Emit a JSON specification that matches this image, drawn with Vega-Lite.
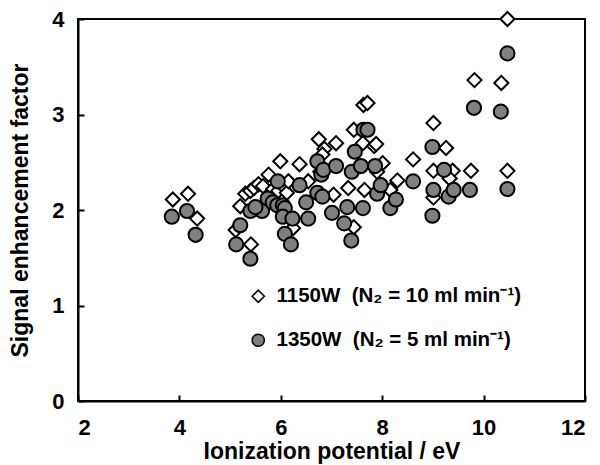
{
  "$schema": "https://vega.github.io/schema/vega-lite/v6.json",
  "width": 507,
  "height": 382,
  "autosize": {"type": "none"},
  "padding": {"left": 78, "top": 19, "right": 15, "bottom": 64},
  "background": "white",
  "config": {
    "font": "Liberation Sans",
    "view": {"stroke": "black", "strokeWidth": 2},
    "axis": {
      "grid": false,
      "domainColor": "black",
      "domainWidth": 2,
      "tickColor": "black",
      "tickWidth": 2,
      "labelFont": "Liberation Sans",
      "labelFontWeight": "bold",
      "labelFontSize": 22,
      "labelColor": "black",
      "titleFont": "Liberation Sans",
      "titleFontWeight": "bold",
      "titleFontSize": 23,
      "titleColor": "black"
    }
  },
  "data": {
    "values": [
      {"ip": 3.87, "sef": 2.11, "series": "1150W"},
      {"ip": 4.17, "sef": 2.17, "series": "1150W"},
      {"ip": 4.35, "sef": 1.91, "series": "1150W"},
      {"ip": 5.11, "sef": 1.79, "series": "1150W"},
      {"ip": 5.20, "sef": 2.04, "series": "1150W"},
      {"ip": 5.41, "sef": 1.64, "series": "1150W"},
      {"ip": 5.30, "sef": 2.17, "series": "1150W"},
      {"ip": 5.40, "sef": 2.20, "series": "1150W"},
      {"ip": 5.47, "sef": 2.23, "series": "1150W"},
      {"ip": 5.56, "sef": 2.27, "series": "1150W"},
      {"ip": 5.65, "sef": 2.25, "series": "1150W"},
      {"ip": 5.76, "sef": 2.37, "series": "1150W"},
      {"ip": 5.85, "sef": 2.22, "series": "1150W"},
      {"ip": 5.95, "sef": 2.20, "series": "1150W"},
      {"ip": 6.05, "sef": 2.25, "series": "1150W"},
      {"ip": 6.12, "sef": 2.18, "series": "1150W"},
      {"ip": 5.99, "sef": 2.51, "series": "1150W"},
      {"ip": 6.15, "sef": 2.30, "series": "1150W"},
      {"ip": 6.24, "sef": 1.81, "series": "1150W"},
      {"ip": 6.37, "sef": 2.48, "series": "1150W"},
      {"ip": 6.54, "sef": 2.30, "series": "1150W"},
      {"ip": 6.75, "sef": 2.74, "series": "1150W"},
      {"ip": 6.86, "sef": 2.64, "series": "1150W"},
      {"ip": 6.82, "sef": 2.58, "series": "1150W"},
      {"ip": 6.78, "sef": 2.40, "series": "1150W"},
      {"ip": 7.09, "sef": 2.70, "series": "1150W"},
      {"ip": 7.04, "sef": 2.16, "series": "1150W"},
      {"ip": 7.33, "sef": 2.23, "series": "1150W"},
      {"ip": 7.44, "sef": 1.82, "series": "1150W"},
      {"ip": 7.44, "sef": 2.84, "series": "1150W"},
      {"ip": 7.62, "sef": 2.70, "series": "1150W"},
      {"ip": 7.63, "sef": 3.10, "series": "1150W"},
      {"ip": 7.71, "sef": 3.12, "series": "1150W"},
      {"ip": 7.65, "sef": 2.21, "series": "1150W"},
      {"ip": 7.84, "sef": 2.67, "series": "1150W"},
      {"ip": 7.88, "sef": 2.69, "series": "1150W"},
      {"ip": 8.01, "sef": 2.49, "series": "1150W"},
      {"ip": 7.90, "sef": 2.40, "series": "1150W"},
      {"ip": 8.30, "sef": 2.31, "series": "1150W"},
      {"ip": 8.16, "sef": 2.21, "series": "1150W"},
      {"ip": 8.61, "sef": 2.53, "series": "1150W"},
      {"ip": 9.01, "sef": 2.91, "series": "1150W"},
      {"ip": 9.01, "sef": 2.41, "series": "1150W"},
      {"ip": 9.01, "sef": 2.13, "series": "1150W"},
      {"ip": 9.26, "sef": 2.65, "series": "1150W"},
      {"ip": 9.39, "sef": 2.41, "series": "1150W"},
      {"ip": 9.33, "sef": 2.33, "series": "1150W"},
      {"ip": 9.75, "sef": 2.41, "series": "1150W"},
      {"ip": 9.82, "sef": 3.36, "series": "1150W"},
      {"ip": 10.35, "sef": 3.33, "series": "1150W"},
      {"ip": 10.47, "sef": 4.00, "series": "1150W"},
      {"ip": 10.47, "sef": 2.41, "series": "1150W"},
      {"ip": 3.85, "sef": 1.93, "series": "1350W"},
      {"ip": 4.15, "sef": 1.99, "series": "1350W"},
      {"ip": 4.32, "sef": 1.74, "series": "1350W"},
      {"ip": 5.12, "sef": 1.64, "series": "1350W"},
      {"ip": 5.20, "sef": 1.84, "series": "1350W"},
      {"ip": 5.40, "sef": 1.49, "series": "1350W"},
      {"ip": 5.40, "sef": 1.99, "series": "1350W"},
      {"ip": 5.63, "sef": 1.99, "series": "1350W"},
      {"ip": 5.50, "sef": 2.03, "series": "1350W"},
      {"ip": 5.74, "sef": 2.12, "series": "1350W"},
      {"ip": 5.84, "sef": 2.08, "series": "1350W"},
      {"ip": 5.94, "sef": 2.30, "series": "1350W"},
      {"ip": 5.93, "sef": 2.05, "series": "1350W"},
      {"ip": 6.04, "sef": 2.05, "series": "1350W"},
      {"ip": 6.08, "sef": 2.02, "series": "1350W"},
      {"ip": 6.04, "sef": 1.93, "series": "1350W"},
      {"ip": 6.08, "sef": 1.75, "series": "1350W"},
      {"ip": 6.20, "sef": 1.64, "series": "1350W"},
      {"ip": 6.23, "sef": 1.91, "series": "1350W"},
      {"ip": 6.37, "sef": 2.26, "series": "1350W"},
      {"ip": 6.50, "sef": 2.08, "series": "1350W"},
      {"ip": 6.54, "sef": 1.91, "series": "1350W"},
      {"ip": 6.72, "sef": 2.51, "series": "1350W"},
      {"ip": 6.72, "sef": 2.18, "series": "1350W"},
      {"ip": 6.80, "sef": 2.37, "series": "1350W"},
      {"ip": 6.84, "sef": 2.42, "series": "1350W"},
      {"ip": 6.82, "sef": 2.14, "series": "1350W"},
      {"ip": 7.09, "sef": 2.46, "series": "1350W"},
      {"ip": 7.01, "sef": 1.97, "series": "1350W"},
      {"ip": 7.25, "sef": 1.86, "series": "1350W"},
      {"ip": 7.31, "sef": 2.03, "series": "1350W"},
      {"ip": 7.39, "sef": 1.68, "series": "1350W"},
      {"ip": 7.40, "sef": 2.40, "series": "1350W"},
      {"ip": 7.46, "sef": 2.61, "series": "1350W"},
      {"ip": 7.58, "sef": 2.46, "series": "1350W"},
      {"ip": 7.62, "sef": 2.02, "series": "1350W"},
      {"ip": 7.63, "sef": 2.84, "series": "1350W"},
      {"ip": 7.71, "sef": 2.84, "series": "1350W"},
      {"ip": 7.86, "sef": 2.46, "series": "1350W"},
      {"ip": 7.90, "sef": 2.17, "series": "1350W"},
      {"ip": 7.97, "sef": 2.26, "series": "1350W"},
      {"ip": 8.16, "sef": 2.02, "series": "1350W"},
      {"ip": 8.27, "sef": 2.11, "series": "1350W"},
      {"ip": 8.61, "sef": 2.30, "series": "1350W"},
      {"ip": 8.99, "sef": 2.66, "series": "1350W"},
      {"ip": 8.99, "sef": 1.94, "series": "1350W"},
      {"ip": 9.01, "sef": 2.21, "series": "1350W"},
      {"ip": 9.22, "sef": 2.42, "series": "1350W"},
      {"ip": 9.31, "sef": 2.14, "series": "1350W"},
      {"ip": 9.41, "sef": 2.21, "series": "1350W"},
      {"ip": 9.73, "sef": 2.21, "series": "1350W"},
      {"ip": 9.81, "sef": 3.07, "series": "1350W"},
      {"ip": 10.34, "sef": 3.03, "series": "1350W"},
      {"ip": 10.47, "sef": 3.64, "series": "1350W"},
      {"ip": 10.47, "sef": 2.22, "series": "1350W"}
    ]
  },
  "mark": {"type": "point", "filled": true, "stroke": "black", "strokeWidth": 2, "opacity": 1, "size": 200, "clip": false},
  "encoding": {
    "x": {
      "field": "ip", "type": "quantitative",
      "scale": {"domain": [2, 12], "nice": false, "zero": false},
      "axis": {"values": [2, 4, 6, 8, 10, 12], "tickSize": -6, "labelPadding": 22, "title": "Ionization potential / eV", "titlePadding": 2}
    },
    "y": {
      "field": "sef", "type": "quantitative",
      "scale": {"domain": [0, 4], "nice": false},
      "axis": {"values": [0, 1, 2, 3, 4], "tickSize": -6, "labelPadding": 20, "title": "Signal enhancement factor", "titlePadding": 19}
    },
    "shape": {
      "field": "series", "type": "nominal",
      "scale": {"domain": ["1150W", "1350W"], "range": ["diamond", "circle"]},
      "legend": {
        "title": null,
        "orient": "none",
        "legendX": 170,
        "legendY": 267,
        "padding": 0,
        "symbolSize": 150,
        "labelFont": "Liberation Sans",
        "labelFontWeight": "bold",
        "labelFontSize": 20.5,
        "labelColor": "black",
        "labelOffset": 8,
        "rowPadding": 23,
        "labelLimit": 400,
        "labelExpr": "datum.label == '1150W' ? '1150W\u00a0\u00a0(N\u2082 = 10 ml min\u207b\u00b9)' : '1350W\u00a0\u00a0(N\u2082 = 5 ml min\u207b\u00b9)'",
        "encode": {
          "symbols": {
            "update": {
              "stroke": {"value": "black"},
              "strokeWidth": {"value": 2},
              "opacity": {"value": 1},
              "size": [{"test": "datum.value === '1150W'", "value": 100}, {"value": 150}]
            }
          }
        }
      }
    },
    "fill": {
      "field": "series", "type": "nominal",
      "scale": {"domain": ["1150W", "1350W"], "range": ["white", "#808080"]},
      "legend": null
    },
    "order": {"field": "series", "sort": "ascending"}
  }
}
